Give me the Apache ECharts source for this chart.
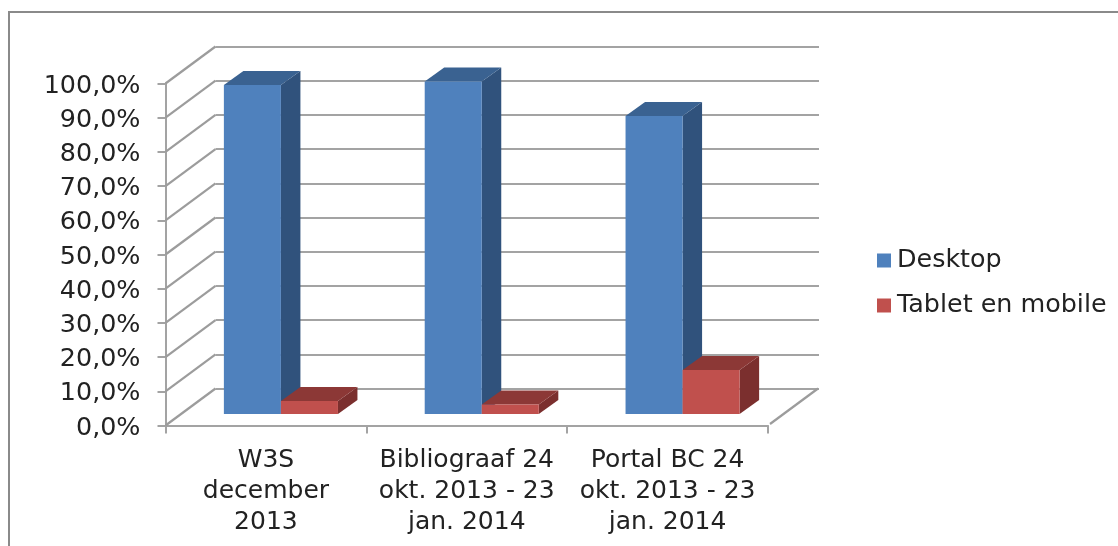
<!DOCTYPE html>
<html>
<head>
<meta charset="utf-8">
<style>html,body{margin:0;padding:0;background:#fff}#c{width:1118px;height:546px}</style>
<script src="https://cdn.jsdelivr.net/npm/echarts@6/dist/echarts.min.js"></script>
</head>
<body>
<div id="c"></div>
<script>
const categories = ["W3S\ndecember\n2013", "Bibliograaf 24\nokt. 2013 - 23\njan. 2014", "Portal BC 24\nokt. 2013 - 23\njan. 2014"];
const desktop = [96.2, 97.2, 87.1];
const tabletMobile = [3.8, 2.8, 12.9];
const yTicks = [0, 10, 20, 30, 40, 50, 60, 70, 80, 90, 100];
const yTickLabels = ["0,0%", "10,0%", "20,0%", "30,0%", "40,0%", "50,0%", "60,0%", "70,0%", "80,0%", "90,0%", "100,0%"];

const FONT = '"DejaVu Sans", Verdana, sans-serif';
const TXT = '#222222', GRID = '#a3a3a3';
const WALL_DX = 50, WALL_DY = -37;
const BASE_DX = 15.0, BASE_DY = -11.5;
const BAR_RATIO = 0.284;
const DEPTH_DX = 19.5, DEPTH_DY = -14;

function cuboid(side, colors) {
  return function (params, api) {
    const base = api.coord([api.value(0), 0]);
    const top = api.coord([api.value(0), api.value(1)]);
    const w = api.size([1, 0])[0] * BAR_RATIO;
    const x0 = base[0] + BASE_DX + (side === 0 ? -w : 0);
    const x1 = x0 + w;
    const yb = base[1] + BASE_DY, yt = top[1] + BASE_DY;
    const poly = (pts, fill) => ({ type: 'polygon', shape: { points: pts }, style: { fill: fill } });
    return {
      type: 'group',
      children: [
        poly([[x1, yt], [x1 + DEPTH_DX, yt + DEPTH_DY], [x1 + DEPTH_DX, yb + DEPTH_DY], [x1, yb]], colors.side),
        poly([[x0, yt], [x0 + DEPTH_DX, yt + DEPTH_DY], [x1 + DEPTH_DX, yt + DEPTH_DY], [x1, yt]], colors.top),
        poly([[x0, yt], [x1, yt], [x1, yb], [x0, yb]], colors.front)
      ]
    };
  };
}

function wallDiagonal(params, api) {
  const p = api.coord([0, api.value(0)]);
  const x = params.coordSys.x;
  return { type: 'line', shape: { x1: x, y1: p[1], x2: x + WALL_DX, y2: p[1] + WALL_DY },
    style: { stroke: '#9c9c9c', lineWidth: 2.2 } };
}
function floorEdge(params, api) {
  const p = api.coord([0, 0]);
  const x = params.coordSys.x + params.coordSys.width;
  return { type: 'line', shape: { x1: x + 2, y1: p[1] - 1.5, x2: x + WALL_DX, y2: p[1] + WALL_DY },
    style: { stroke: '#9c9c9c', lineWidth: 2.2 } };
}

const chart = echarts.init(document.getElementById('c'), null, { renderer: 'canvas' });
chart.setOption({
  animation: false,
  backgroundColor: '#ffffff',
  textStyle: { fontFamily: FONT },
  graphic: [{
    type: 'polyline', silent: true, z: -1,
    shape: { points: [[9, 547], [9, 12], [1119, 12]] },
    style: { stroke: '#8a8a8a', lineWidth: 2, fill: null }
  }],
  legend: {
    data: ['Desktop', 'Tablet en mobile'],
    orient: 'vertical', left: 877, top: 248, padding: 0,
    icon: 'rect', itemWidth: 14, itemHeight: 14, itemGap: 20,
    textStyle: { fontFamily: FONT, fontSize: 25.4, color: TXT, padding: [0, 0, 0, 1] }
  },
  grid: [
    { left: 165.5, top: 83.5, width: 602.5, height: 342 },
    { left: 215.5, top: 46.5, width: 603.5, height: 342 },
    { left: 165.5, top: 86, width: 602.5, height: 342 }
  ],
  xAxis: [
    { type: 'category', gridIndex: 0, data: categories,
      axisLine: { lineStyle: { color: GRID, width: 2 } },
      axisTick: { show: true, length: 8, alignWithLabel: false, lineStyle: { color: GRID, width: 2 } },
      axisLabel: { fontFamily: FONT, fontSize: 25, color: TXT, lineHeight: 31, margin: 19, interval: 0 } },
    { type: 'category', gridIndex: 1, data: categories, show: false },
    { type: 'category', gridIndex: 2, data: categories, show: false }
  ],
  yAxis: [
    { type: 'value', gridIndex: 0, min: 0, max: 100, interval: 10,
      axisLine: { show: true, lineStyle: { color: GRID, width: 2 } },
      axisTick: { show: true, length: 8, lineStyle: { color: GRID, width: 2 } },
      splitLine: { show: false },
      axisLabel: { show: false } },
    { type: 'value', gridIndex: 1, min: 0, max: 100, interval: 10,
      axisLine: { show: false }, axisTick: { show: false }, axisLabel: { show: false },
      splitLine: { show: true, lineStyle: { color: GRID, width: 2 } } },
    { type: 'value', gridIndex: 2, min: 0, max: 100, interval: 10,
      axisLine: { show: false }, axisTick: { show: false }, splitLine: { show: false },
      axisLabel: { fontFamily: FONT, fontSize: 25.4, color: TXT, margin: 25,
        formatter: v => yTickLabels[yTicks.indexOf(v)] } }
  ],
  series: [
    { type: 'custom', name: 'walls', xAxisIndex: 0, yAxisIndex: 0, z: 1, silent: true,
      renderItem: wallDiagonal, data: yTicks.map(v => [v]), encode: { y: 0 } },
    { type: 'custom', name: 'floor', xAxisIndex: 0, yAxisIndex: 0, z: 1, silent: true,
      renderItem: floorEdge, data: [[0]], encode: { y: 0 } },
    { type: 'custom', name: 'Desktop', xAxisIndex: 0, yAxisIndex: 0, z: 3,
      itemStyle: { color: '#4F81BD' },
      renderItem: cuboid(0, { front: '#4F81BD', top: '#3A6291', side: '#30527C' }),
      data: desktop.map((v, i) => [i, v]), encode: { x: 0, y: 1 } },
    { type: 'custom', name: 'Tablet en mobile', xAxisIndex: 0, yAxisIndex: 0, z: 4,
      itemStyle: { color: '#C0504D' },
      renderItem: cuboid(1, { front: '#C0504D', top: '#8C3836', side: '#7B2F2E' }),
      data: tabletMobile.map((v, i) => [i, v]), encode: { x: 0, y: 1 } }
  ]
});
</script>
</body>
</html>
